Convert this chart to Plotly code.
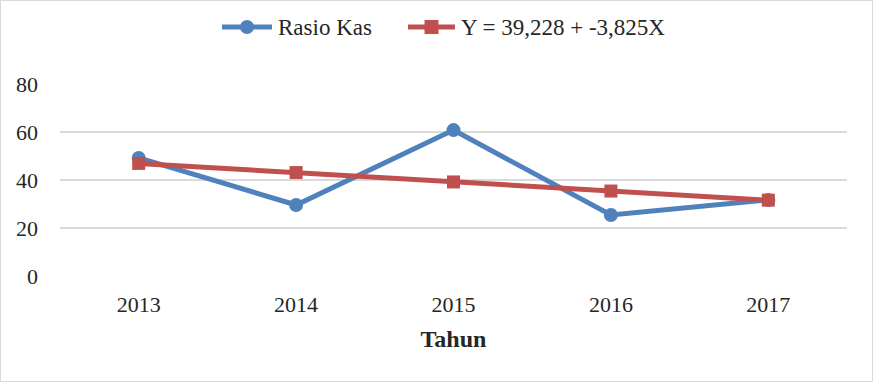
import plotly.graph_objects as go

years = ["2013", "2014", "2015", "2016", "2017"]
rasio_kas = [49.2, 29.6, 60.8, 25.4, 31.7]
trend = [46.9, 43.1, 39.2, 35.4, 31.6]
y_ticks = [0, 20, 40, 60, 80]
names = ["Rasio Kas", "Y = 39,228 + -3,825X"]
colors = ["#4F81BD", "#C0504D"]

W, H = 873, 382
ml, mr, mt, mb = 60, 26, 84, 106
pw, ph = W - ml - mr, H - mt - mb


def px(x):
    return (x - ml) / pw


def py(y):
    return (H - mb - y) / ph


fig = go.Figure()
fig.add_trace(go.Scatter(
    x=years, y=rasio_kas, mode="lines+markers", name=names[0],
    line=dict(color=colors[0], width=5),
    marker=dict(symbol="circle", size=14, color=colors[0]),
))
fig.add_trace(go.Scatter(
    x=years, y=trend, mode="lines+markers", name=names[1],
    line=dict(color=colors[1], width=5),
    marker=dict(symbol="square", size=13, color=colors[1]),
))

fig.update_layout(
    width=W, height=H,
    margin=dict(l=ml, r=mr, t=mt, b=mb),
    paper_bgcolor="white", plot_bgcolor="white",
    font=dict(family="Liberation Serif", size=22, color="#262626"),
    showlegend=False,
    xaxis=dict(
        type="category", range=[-0.5, 4.5], showgrid=False, showline=False, zeroline=False,
        ticks="", tickfont=dict(size=22), ticklabelstandoff=13,
        title=dict(text="<b>Tahun</b>", font=dict(size=24, color="#262626"), standoff=14),
    ),
    yaxis=dict(
        range=[0, 80], tickvals=y_ticks, showgrid=True, gridcolor="#D9D9D9",
        gridwidth=1.5, zeroline=False, showline=False, ticks="",
        tickfont=dict(size=22), ticklabelstandoff=21,
    ),
)

# chart border
fig.add_shape(type="rect", xref="paper", yref="paper",
              x0=-(ml - 0.5) / pw, x1=1 + (mr - 0.5) / pw,
              y0=-(mb - 0.5) / ph, y1=1 + (mt - 0.5) / ph,
              line=dict(color="#D9D9D9", width=1), layer="below")

# custom legend (Excel-style, long symbol lines)
ly = 27
items = [(222, 272, "circle"), (408, 455, "square")]
for (x0, x1, sym), name, col in zip(items, names, colors):
    fig.add_shape(type="line", xref="paper", yref="paper",
                  x0=px(x0), x1=px(x1), y0=py(ly), y1=py(ly),
                  line=dict(color=col, width=5))
    cx = (x0 + x1) / 2
    r = 7
    fig.add_shape(type="circle" if sym == "circle" else "rect",
                  xref="paper", yref="paper",
                  x0=px(cx - r), x1=px(cx + r), y0=py(ly + r), y1=py(ly - r),
                  fillcolor=col, line=dict(width=0))
    fig.add_annotation(xref="paper", yref="paper", x=px(x1 + 4), y=py(ly),
                       xanchor="left", yanchor="middle", showarrow=False,
                       text=name, font=dict(size=23, color="#262626"))

fig.write_html("out.html", config={"displayModeBar": False},
               post_script="document.body.style.margin='0';document.body.style.overflow='hidden';")
